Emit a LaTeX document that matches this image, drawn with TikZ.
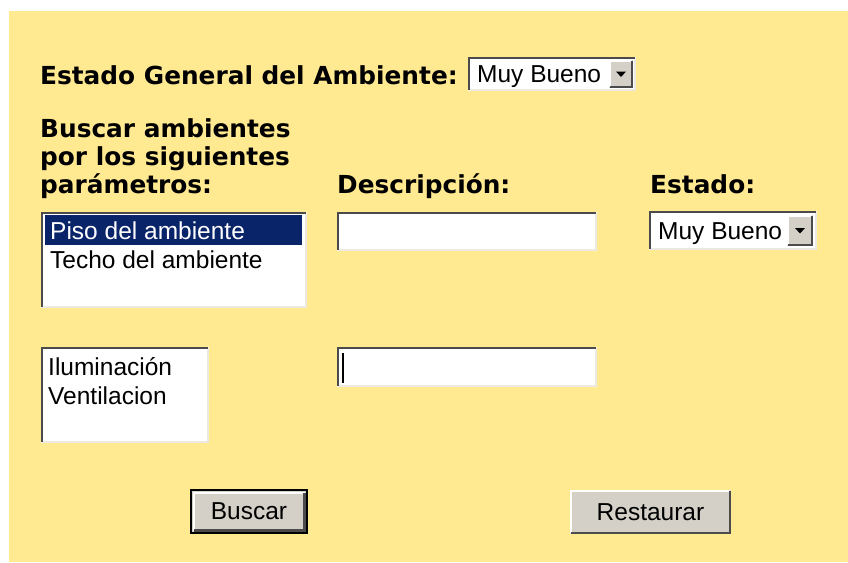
\documentclass[tikz,border=0pt]{standalone}
\usepackage{fontspec}
\newfontfamily\headfont{DejaVu Sans}
\newfontfamily\uifont{Liberation Sans}
\usetikzlibrary{positioning, calc}

\definecolor{panel}{RGB}{255,233,145}
\definecolor{btnface}{RGB}{212,208,200}
\definecolor{selblue}{RGB}{10,36,106}
\definecolor{edgedark}{RGB}{75,75,75}
\definecolor{edgelight}{RGB}{236,233,226}

\tikzset{
  heading/.style={font=\headfont\bfseries\fontsize{24.8}{28}\selectfont, inner sep=0pt, anchor=base west},
  uitext/.style={font=\uifont\fontsize{24.5}{29}\selectfont, inner sep=0pt, anchor=base west},
  field/.style={fill=white, inner sep=0pt, outer sep=0pt, anchor=north west},
  button/.style={fill=btnface, inner sep=0pt, outer sep=0pt, anchor=north west},
  darkedge/.style={draw=edgedark, line width=2.2pt},
  lightedge/.style={draw=edgelight, line width=2pt},
  whiteedge/.style={draw=white, line width=2pt},
}

% bevels of a widget node: name, inset
\newcommand{\sunkenedge}[2]{%
  \draw[lightedge] ([shift={(#2,-#2)}]#1.south west) -- ([shift={(-#2,-#2)}]#1.south east) -- ([shift={(-#2,#2)}]#1.north east);
  \draw[darkedge] ([shift={(#2,-#2)}]#1.south west) -- ([shift={(#2,#2)}]#1.north west) -- ([shift={(-#2,#2)}]#1.north east);}
\newcommand{\raisededge}[2]{%
  \draw[whiteedge] ([shift={(#2,-#2)}]#1.south west) -- ([shift={(#2,#2)}]#1.north west) -- ([shift={(-#2,#2)}]#1.north east);
  \draw[darkedge] ([shift={(#2,-#2)}]#1.south west) -- ([shift={(-#2,-#2)}]#1.south east) -- ([shift={(-#2,#2)}]#1.north east);}

\begin{document}
\begin{tikzpicture}[x=1pt, y=-1pt]
\useasboundingbox (0,0) rectangle (848,562);
% Panel
\fill[panel] (9,11) rectangle (848,562);

% General state
\node[heading] (general) at (40,84) {Estado General del Ambiente:};
\node[field, minimum width=168pt, minimum height=34pt] (gensel) at (468,57) {};
\sunkenedge{gensel}{1}
\node[button, minimum width=24pt, minimum height=28pt, anchor=north east] (genbtn) at ($(gensel.north east)+(-3,3)$) {};
\raisededge{genbtn}{1}
\fill (genbtn.center) ++(-5,-2.5) -- ++(10,0) -- ++(-5,5.5) -- cycle;
\node[uitext] (genval) at ($(gensel.west)+(9,8.5)$) {Muy Bueno};

% Column headings
\node[heading] (search1) at (40,137) {Buscar ambientes};
\node[heading] (search2) at (40,165) {por los siguientes};
\node[heading] (search3) at (40,193) {parámetros:};
\node[heading] (descr) at (337,193) {Descripción:};
\node[heading] (estado) at (650,193) {Estado:};

% First row
\node[field, minimum width=266pt, minimum height=96pt] (params1) at (41,212) {};
\sunkenedge{params1}{1}
\node[fill=selblue, inner sep=0pt, minimum width=257pt, minimum height=30pt, anchor=north west] (sel1) at ($(params1.north west)+(4,3)$) {};
\node[uitext, text=white] (piso) at (50,239) {Piso del ambiente};
\node[uitext] (techo) at (50,268) {Techo del ambiente};

\node[field, minimum width=260pt, minimum height=39pt] (descfield1) at (337,212) {};
\sunkenedge{descfield1}{1}

\node[field, minimum width=168pt, minimum height=39pt] (estsel) at (649,211) {};
\sunkenedge{estsel}{1}
\node[button, minimum width=26pt, minimum height=31pt, anchor=north east] (estbtn) at ($(estsel.north east)+(-4,4)$) {};
\raisededge{estbtn}{1}
\fill (estbtn.center) ++(-5,-2.5) -- ++(10,0) -- ++(-5,5.5) -- cycle;
\node[uitext] (estval) at (658,239) {Muy Bueno};

% Second row
\node[field, minimum width=168pt, minimum height=96pt] (params2) at (41,347) {};
\sunkenedge{params2}{1}
\node[uitext] (ilum) at (48,375) {Iluminación};
\node[uitext] (vent) at (48,404) {Ventilacion};

\node[field, minimum width=260pt, minimum height=40pt] (descfield2) at (337,347) {};
\sunkenedge{descfield2}{1}
\draw[line width=1.3pt] ($(descfield2.north west)+(6,6)$) -- ++(0,30);

% Buttons
\node[button, minimum width=116pt, minimum height=43pt, font=\uifont\fontsize{24.5}{29}\selectfont] (buscar) at (191,490) {Buscar};
\raisededge{buscar}{2.5}
\draw[line width=1.5pt] (buscar.south west) rectangle (buscar.north east);
\node[button, minimum width=161pt, minimum height=44pt, font=\uifont\fontsize{24.5}{29}\selectfont] (restaurar) at (570,490) {Restaurar};
\raisededge{restaurar}{1}
\end{tikzpicture}
\end{document}
